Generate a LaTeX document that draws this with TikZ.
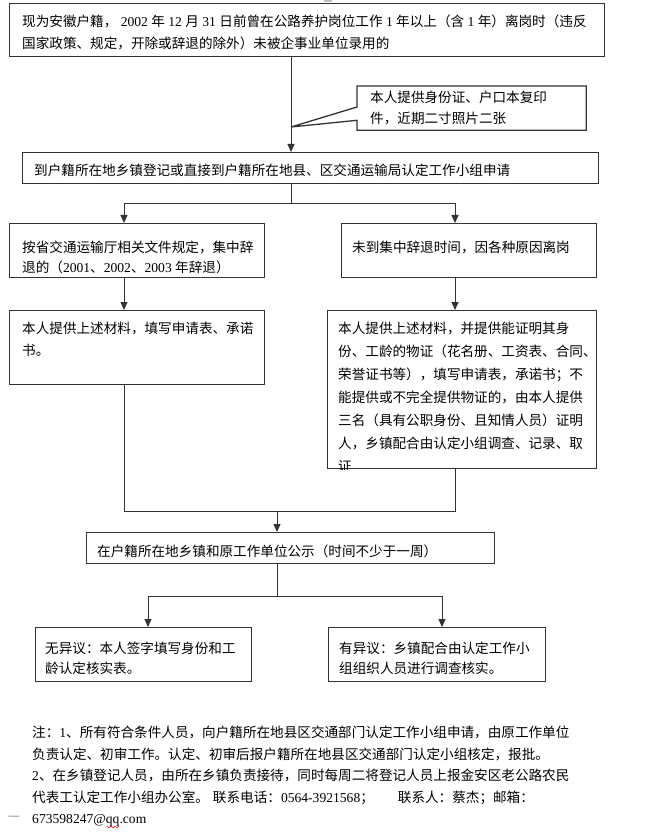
\documentclass[tikz,border=0pt]{standalone}
\usepackage{fontspec}
\setmainfont{Noto Sans CJK SC}
\newfontfamily\tnrfont{Liberation Serif}
\newcommand{\tnr}[1]{{\tnrfont #1}}
\usetikzlibrary{arrows.meta,positioning}

\begin{document}
\begin{tikzpicture}[x=1pt, y=-1pt,
  box/.style={draw=black!80, line width=1.3pt, anchor=north west, inner sep=0pt},
  txt/.style={inner sep=0pt, align=left, font=\fontsize{13.6}{#1}\selectfont},
  txt/.default=21.5,
  link/.style={draw=black!80, line width=1pt},
  flow/.style={link, -{Triangle[length=8pt,width=7pt]}}]
  \useasboundingbox (0,0) rectangle (650,834);
  \fill[gray!50] (324,0) rectangle (332,2);
  % columns of the connectors
  \coordinate (sp) at (291,0);
  \coordinate (lcol) at (124,0);
  \coordinate (rcol) at (455,0);
  \coordinate (tip) at (291,127);
  \coordinate (fork1) at (291,204);
  \coordinate (join) at (277,511);
  \coordinate (fork2) at (277,596);
  \coordinate (lcol2) at (148,0);
  \coordinate (rcol2) at (442,0);

  % boxes
  \node[box, minimum width=595, minimum height=53] (top) at (9,3) {};
  \node[box, draw=none, minimum width=228, minimum height=43] (docs) at (357,86) {};
  \node[box, minimum width=576, minimum height=31] (apply) at (22,152) {};
  \node[box, minimum width=255, minimum height=54] (fixed) at (9,223) {};
  \node[box, minimum width=255, minimum height=54] (early) at (341,223) {};
  \node[box, minimum width=255, minimum height=74] (fixmat) at (9,310) {};
  \node[box, minimum width=269, minimum height=158] (earlymat) at (327,310) {};
  \node[box, minimum width=408, minimum height=31] (notice) at (86,532) {};
  \node[box, minimum width=216, minimum height=54] (agree) at (35,627) {};
  \node[box, minimum width=217, minimum height=54] (object) at (328,627) {};

  % callout with its wedge
  \draw[draw=black!80, line width=1.3pt, line join=miter] (docs.north west) -- (docs.north east)
    -- (docs.south east) -- (docs.south west) -- ([yshift=10pt]docs.south west)
    -- (tip) -- ([yshift=-21pt]docs.north west) -- cycle;

  % texts
  \node[txt=22, below right=12pt and 13pt of top.north west] (toptxt)
    {现为安徽户籍，\tnr{ 2002 }年\tnr{ 12 }月\tnr{ 31 }日前曾在公路养护岗位工作\tnr{ 1 }年以上（含\tnr{ 1 }年）离岗时（违反\\
     国家政策、规定，开除或辞退的除外）未被企事业单位录用的};
  \node[txt=21, below right=5pt and 13pt of docs.north west] (docstxt)
    {本人提供身份证、户口本复印\\件，近期二寸照片二张};
  \node[txt, below right=12pt and 12pt of apply.north west] (applytxt)
    {到户籍所在地乡镇登记或直接到户籍所在地县、区交通运输局认定工作小组申请};
  \node[txt=20, below right=18pt and 13pt of fixed.north west] (fixedtxt)
    {按省交通运输厅相关文件规定，集中辞\\退的（\tnr{2001}、\tnr{2002}、\tnr{2003 }年辞退）};
  \node[txt, below right=18pt and 11pt of early.north west] (earlytxt)
    {未到集中辞退时间，因各种原因离岗};
  \node[txt=22, below right=12pt and 13pt of fixmat.north west] (fixmattxt)
    {本人提供上述材料，填写申请表、承诺\\书。};
  \begin{scope}
    \clip (earlymat.north west) rectangle (earlymat.south east);
    \node[txt=23, below right=12pt and 11pt of earlymat.north west] (earlymattxt)
      {本人提供上述材料，并提供能证明其身\\
       份、工龄的物证（花名册、工资表、合同、\\
       荣誉证书等），填写申请表，承诺书；不\\
       能提供或不完全提供物证的，由本人提供\\
       三名（具有公职身份、且知情人员）证明\\
       人，乡镇配合由认定小组调查、记录、取\\
       证};
  \end{scope}
  \node[txt, below right=13pt and 11pt of notice.north west] (noticetxt)
    {在户籍所在地乡镇和原工作单位公示（时间不少于一周）};
  \node[txt=19.5, below right=15pt and 10pt of agree.north west] (agreetxt)
    {无异议：本人签字填写身份和工\\龄认定核实表。};
  \node[txt=19.5, below right=15pt and 11pt of object.north west] (objecttxt)
    {有异议：乡镇配合由认定工作小\\组组织人员进行调查核实。};

  % connectors
  \draw[flow] (top.south -| sp) -- (apply.north -| sp);
  \draw[link] (apply.south -| sp) -- (fork1);
  \draw[flow] (fork1) -| (fixed.north -| lcol);
  \draw[flow] (fork1) -| (early.north -| rcol);
  \draw[flow] (fixed.south -| lcol) -- (fixmat.north -| lcol);
  \draw[flow] (early.south -| rcol) -- (earlymat.north -| rcol);
  \draw[link] (fixmat.south -| lcol) -- (lcol |- join) -- (rcol |- join) -- (earlymat.south -| rcol);
  \draw[flow] (join) -- (notice.north -| join);
  \draw[link] (notice.south -| fork2) -- (fork2);
  \draw[flow] (fork2) -| (agree.north -| lcol2);
  \draw[flow] (fork2) -| (object.north -| rcol2);

  % notes below the chart
  \node[txt, anchor=north west] (notes) at (32,726)
    {注：\tnr{1}、所有符合条件人员，向户籍所在地县区交通部门认定工作小组申请，由原工作单位\\
     负责认定、初审工作。认定、初审后报户籍所在地县区交通部门认定小组核定，报批。\\
     \tnr{2}、在乡镇登记人员，由所在乡镇负责接待，同时每周二将登记人员上报金安区老公路农民\\
     代表工认定工作小组办公室。\hspace{4pt}联系电话：\tnr{0564-3921568}；\hspace{24pt}联系人：蔡杰；邮箱：\\
     \tnr{673598247@qq.com}};
  \node[txt, text=gray] (dash) at (14,818) {—};
  \draw[red, line width=0.5pt] (107,826) -- (109,828) -- (111,826) -- (113,828) -- (115,826) -- (117,828) -- (119,826);
\end{tikzpicture}
\end{document}
